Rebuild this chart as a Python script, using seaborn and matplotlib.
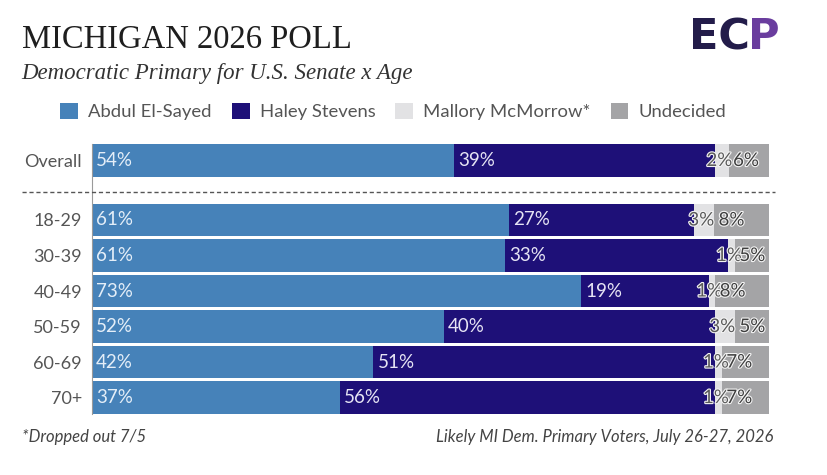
import numpy as np
import pandas as pd
import matplotlib.pyplot as plt
import matplotlib.patheffects as pe
from matplotlib.patches import Patch
from matplotlib.lines import Line2D
import seaborn as sns

groups = ["Overall", "18-29", "30-39", "40-49", "50-59", "60-69", "70+"]
candidates = ["Abdul El-Sayed", "Haley Stevens", "Mallory McMorrow*", "Undecided"]
el_sayed = [54, 61, 61, 73, 52, 42, 37]
stevens = [39, 27, 33, 19, 40, 51, 56]
mcmorrow = [2, 3, 1, 1, 3, 1, 1]
undecided = [6, 8, 5, 8, 5, 7, 7]

colors = ["#4682b9", "#1e1078", "#e2e2e4", "#a4a4a6"]
text_colors = ["#e4eef8", "#e6e4f4", "#5a5a5a", "#3e3e3e"]

sns.set_theme(style="white")
plt.rcParams["font.family"] = ["Lato", "DejaVu Sans"]

df = pd.DataFrame({"group": groups, candidates[0]: el_sayed, candidates[1]: stevens,
                   candidates[2]: mcmorrow, candidates[3]: undecided})
values = df[candidates]
# bars are drawn as shares of 100 so every row ends at the same point
shares = values.div(values.sum(axis=1), axis=0) * 100
ends = shares.cumsum(axis=1)
starts = ends - shares

# overall row on top, then a gap before the age rows
pos = np.r_[0, 1.676 + np.arange(len(groups) - 1)]

fig = plt.figure(figsize=(8.27, 4.75), dpi=100)
ax = fig.add_axes([0.111, 0.129, 0.819, 0.5672])

for i in reversed(range(len(candidates))):
    sns.barplot(x=ends[candidates[i]].values, y=pos, orient="y", native_scale=True,
                color=colors[i], saturation=1, width=0.91, errorbar=None,
                linewidth=0, ax=ax)

for r in range(len(groups)):
    for i, c in enumerate(candidates):
        if i == 2:
            # the thin McMorrow slice gets its label centred on it
            xy, dx, ha = (starts.loc[r, c] + shares.loc[r, c] / 2, pos[r]), -2, "center"
        else:
            xy, dx, ha = (starts.loc[r, c], pos[r]), 3, "left"
        t = ax.annotate(f"{values.loc[r, c]}%", xy=xy, xytext=(dx, 0),
                        textcoords="offset points", ha=ha, va="center",
                        fontsize=13.5, color=text_colors[i])
        if i >= 2:
            t.set_path_effects([pe.withStroke(linewidth=1.6, foreground="#f4f4f4")])

ax.set_xlim(0, 100)
ax.set_ylim(pos[-1] + 0.455, -0.455)
ax.set_yticks(pos, groups)
ax.set_xticks([])
ax.set_xlabel("")
ax.set_ylabel("")
ax.tick_params(axis="y", length=0, pad=7, labelsize=13, labelcolor="#555555")
for s in ["top", "right", "bottom"]:
    ax.spines[s].set_visible(False)
ax.spines["left"].set_color("#9a9a9a")
ax.spines["left"].set_linewidth(0.8)

# dashed separator under the overall row
fig.add_artist(Line2D([0.027, 0.937], [1 - 192 / 475] * 2, transform=fig.transFigure,
                      color="#555555", lw=1, linestyle=(0, (3, 2))))

fig.text(0.026, 0.899, "MICHIGAN 2026 POLL", family="Liberation Serif",
         fontsize=23.5, color="#1e1e1e", va="baseline")
fig.text(0.026, 0.833, "Democratic Primary for U.S. Senate x Age", family="Liberation Serif",
         style="italic", fontsize=16.5, color="#333333", va="baseline")

handles = [Patch(facecolor=colors[i], edgecolor="none") for i in range(len(candidates))]
fig.legend(handles, candidates, loc="center left", bbox_to_anchor=(0.073, 0.765),
           borderaxespad=0, borderpad=0, ncol=4, frameon=False, fontsize=13.3,
           handlelength=0.97, handleheight=0.92, handletextpad=0.54,
           columnspacing=1.08, labelcolor="#555555")

fig.text(0.027, 0.069, "*Dropped out 7/5", style="italic", fontsize=12,
         color="#444444", va="baseline")
fig.text(0.935, 0.069, "Likely MI Dem. Primary Voters, July 26-27, 2026", style="italic",
         fontsize=12, color="#444444", va="baseline", ha="right")

# logo
ec = fig.text(0.833, 0.896, "EC", family="DejaVu Sans", weight="bold", fontsize=31,
              color="#231c4a", va="baseline")
ax.annotate("P", xy=(1, 0), xycoords=ec, xytext=(-1.5, 0), textcoords="offset points",
            ha="left", va="bottom", family="DejaVu Sans", weight="bold", fontsize=31,
            color="#6a3d9e", annotation_clip=False)

fig.savefig("out.png", dpi=100)
